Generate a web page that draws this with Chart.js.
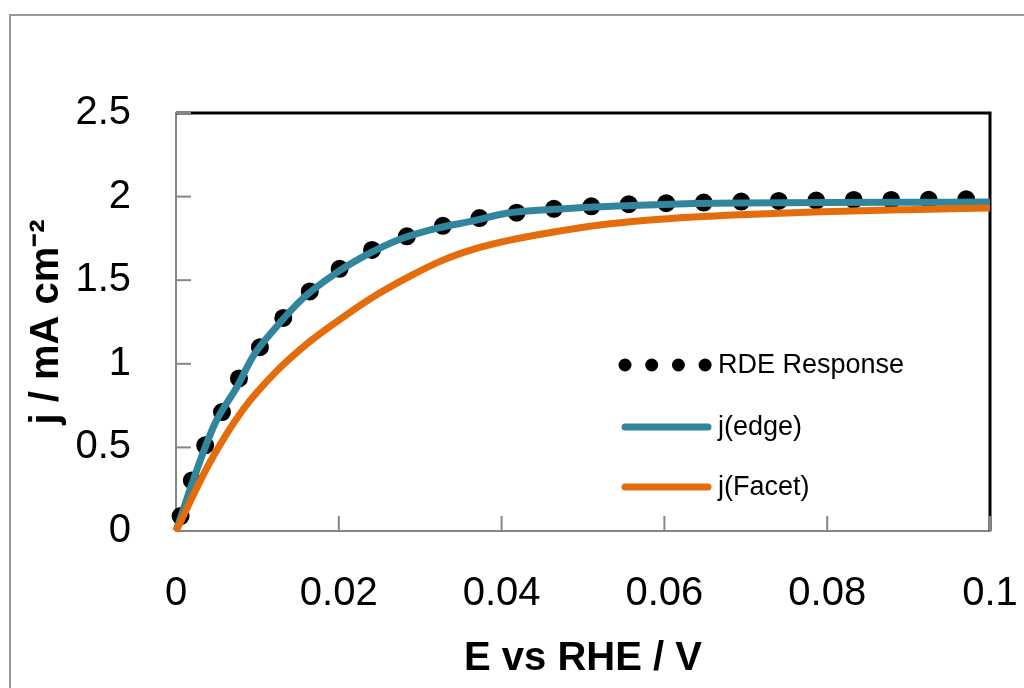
<!DOCTYPE html>
<html>
<head>
<meta charset="utf-8">
<script src="https://cdn.jsdelivr.net/npm/chart.js@4.4.1/dist/chart.umd.min.js"></script>
<style>
  body { margin: 0; background: #fff; }
  #wrap { position: relative; width: 1024px; height: 688px; overflow: hidden; }
  #frame { position: absolute; left: 9px; top: 14px; width: 1100px; height: 800px;
           border-left: 2px solid #999; border-top: 2px solid #999; }
  #chart { position: absolute; left: 0; top: 0; }
</style>
</head>
<body>
<div id="wrap">
  <div id="frame"></div>
  <canvas id="chart" width="1024" height="688"></canvas>
</div>
<script>
// tick labels
const xTicks = [0, 0.02, 0.04, 0.06, 0.08, 0.1];
const yTicks = [0, 0.5, 1, 1.5, 2, 2.5];

// RDE Response (read from dot centres)
const rdeX = [0, 0.00144, 0.00295, 0.0050, 0.00704, 0.0095, 0.01237, 0.01557, 0.01913, 0.0230, 0.0274, 0.0319,
              0.03652, 0.04124, 0.04574, 0.05045, 0.05516, 0.05987, 0.06437, 0.0691, 0.074, 0.0787, 0.0834, 0.0879, 0.0926, 0.0973, 0.1];
const rdeY = [0, 0.225, 0.444, 0.644, 0.853, 1.043, 1.228, 1.395, 1.535, 1.655, 1.746, 1.814,
              1.865, 1.900, 1.924, 1.940, 1.954, 1.960, 1.964, 1.970, 1.974, 1.976, 1.980, 1.980, 1.981, 1.984, 1.985];

// j(edge)
const edgeX = [0, 0.003, 0.0049, 0.0075, 0.0095, 0.012, 0.0156, 0.0193, 0.0234, 0.0275, 0.032, 0.0365,
               0.0406, 0.0464, 0.0521, 0.0578, 0.0636, 0.0693, 0.08, 0.09, 0.1];
const edgeY = [0, 0.425, 0.654, 0.863, 1.048, 1.202, 1.392, 1.531, 1.651, 1.745, 1.810, 1.855,
               1.900, 1.924, 1.940, 1.950, 1.958, 1.962, 1.965, 1.966, 1.967];

// j(Facet)
const facetX = [0, 0.0041, 0.0082, 0.0123, 0.0164, 0.0205, 0.0246, 0.0287, 0.0328, 0.0369, 0.0406, 0.0464,
                0.0521, 0.0578, 0.0636, 0.0693, 0.0783, 0.0898, 0.1];
const facetY = [0, 0.405, 0.724, 0.953, 1.132, 1.278, 1.411, 1.523, 1.620, 1.690, 1.735, 1.788,
                1.830, 1.858, 1.878, 1.892, 1.908, 1.922, 1.932];

const toPoints = (xs, ys) => xs.map((x, i) => ({ x: x, y: ys[i] }));

const FONT = "'Liberation Sans', Arial, sans-serif";
const AXIS_GREY = "#868686";

// black top/right frame + inside tick marks
const framePlugin = {
    id: "framePlugin",
    beforeDatasetsDraw(chart) {
        const c = chart.ctx;
        const a = chart.chartArea;
        c.save();
        c.strokeStyle = "#000";
        c.lineWidth = 3;
        c.beginPath();
        c.moveTo(a.left, a.top);
        c.lineTo(a.right, a.top);
        c.lineTo(a.right, a.bottom);
        c.stroke();

        c.strokeStyle = AXIS_GREY;
        c.lineWidth = 2;
        const xs = chart.scales.x, ys = chart.scales.y;
        xs.ticks.forEach(t => {
            const px = xs.getPixelForValue(t.value);
            c.beginPath(); c.moveTo(px, a.bottom); c.lineTo(px, a.bottom - 15); c.stroke();
        });
        ys.ticks.forEach(t => {
            const py = ys.getPixelForValue(t.value);
            c.beginPath(); c.moveTo(a.left, py); c.lineTo(a.left + 15, py); c.stroke();
        });
        c.restore();
    }
};

// legend drawn inside the plot area
const legendPlugin = {
    id: "legendPlugin",
    afterDatasetsDraw(chart) {
        const c = chart.ctx;
        const rows = [365, 427, 487];
        c.save();
        c.font = "27px " + FONT;
        c.textBaseline = "middle";
        c.fillStyle = "#000";
        chart.data.datasets.forEach((ds, i) => {
            const y = rows[i];
            c.beginPath();
            c.lineCap = "round";
            if (ds.borderDash && ds.borderDash.length) {
                c.setLineDash([0, 26.7]);
                c.lineWidth = 13;
                c.moveTo(625, y);
                c.lineTo(706, y);
            } else {
                c.setLineDash([]);
                c.lineWidth = 7;
                c.moveTo(625, y);
                c.lineTo(708, y);
            }
            c.strokeStyle = ds.borderColor;
            c.stroke();
            c.fillText(ds.label, 718, y + 1);
        });
        c.restore();
    }
};

const ctx = document.getElementById("chart").getContext("2d");
const chart = new Chart(ctx, {
    type: "line",
    data: {
        datasets: [
            { label: "RDE Response", data: toPoints(rdeX, rdeY), borderColor: "#000", borderWidth: 18,
              borderDash: [0, 37.5], borderDashOffset: 22, borderCapStyle: "round", pointRadius: 0,
              cubicInterpolationMode: "monotone", clip: false, order: 3 },
            { label: "j(edge)", data: toPoints(edgeX, edgeY), borderColor: "#31859C", borderWidth: 7,
              pointRadius: 0, cubicInterpolationMode: "monotone", clip: false, order: 2 },
            { label: "j(Facet)", data: toPoints(facetX, facetY), borderColor: "#E46C0A", borderWidth: 7,
              pointRadius: 0, cubicInterpolationMode: "monotone", clip: false, order: 1 }
        ]
    },
    options: {
        responsive: false,
        animation: false,
        layout: { padding: { top: 113, right: 34, left: 0, bottom: 0 } },
        plugins: { legend: { display: false }, tooltip: { enabled: false } },
        scales: {
            x: {
                type: "linear", min: 0, max: 0.1,
                afterBuildTicks: s => { s.ticks = xTicks.map(v => ({ value: v })); },
                afterFit: s => { s.height = 157; s.paddingLeft = 0; s.paddingRight = 0; },
                grid: { display: false, drawTicks: false },
                border: { color: AXIS_GREY, width: 2 },
                ticks: { color: "#000", font: { family: FONT, size: 40 }, padding: 39,
                         maxRotation: 0, autoSkip: false,
                         callback: v => String(+v.toFixed(2)) },
                title: { display: true, text: "E vs RHE / V", color: "#000",
                         font: { family: FONT, size: 40, weight: "bold" }, padding: { top: 0, bottom: 5 } }
            },
            y: {
                type: "linear", min: 0, max: 2.5,
                afterBuildTicks: s => { s.ticks = yTicks.map(v => ({ value: v })); },
                afterFit: s => { s.width = 176; s.paddingTop = 0; s.paddingBottom = 0; },
                grid: { display: false, drawTicks: false },
                border: { color: AXIS_GREY, width: 2 },
                ticks: { color: "#000", font: { family: FONT, size: 40 }, padding: 45,
                         callback: v => String(v) },
                title: { display: true, text: "j / mA cm\u207B\u00B2", color: "#000",
                         font: { family: FONT, size: 40, weight: "bold" }, padding: { top: 23, bottom: 0 } }
            }
        }
    },
    plugins: [framePlugin, legendPlugin]
});
</script>
</body>
</html>
